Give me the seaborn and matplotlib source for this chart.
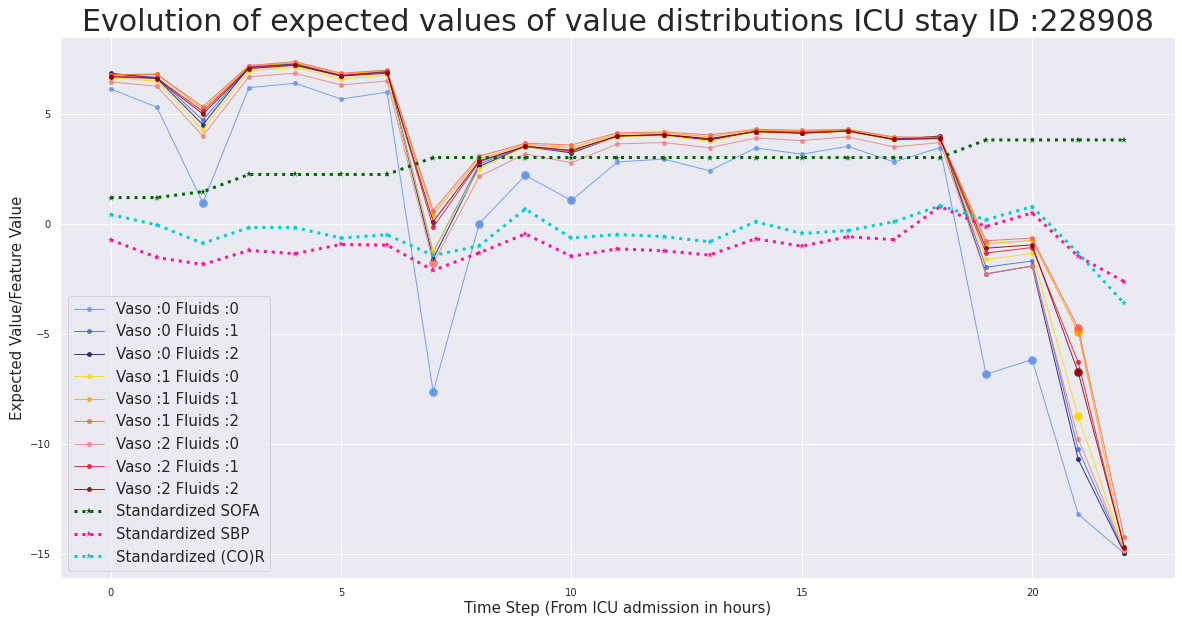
import numpy as np
import pandas as pd
import matplotlib
matplotlib.use("Agg")
import matplotlib.pyplot as plt
import seaborn as sns

# Valores esperados por accion (vaso, fluids) para la estancia 228908
steps = list(range(23))

v0f0 = [6.12, 5.29, 0.94, 6.17, 6.38, 5.66, 5.97, -7.65, 0.00, 2.19, 1.05, 2.80, 2.93, 2.40, 3.44, 3.15, 3.51, 2.80, 3.45, -6.85, -6.18, -13.21, -14.99]
v0f1 = [6.80, 6.65, 4.70, 7.12, 7.28, 6.75, 6.92, -1.30, 2.70, 3.52, 3.25, 3.98, 4.04, 3.82, 4.20, 4.18, 4.22, 3.85, 3.95, -1.98, -1.70, -10.26, -14.95]
v0f2 = [6.83, 6.60, 4.49, 7.10, 7.25, 6.72, 6.90, -1.60, 2.60, 3.50, 3.21, 3.96, 4.02, 3.80, 4.18, 4.12, 4.20, 3.82, 3.98, -2.29, -1.93, -10.71, -14.97]
v1f0 = [6.62, 6.47, 4.27, 6.94, 7.10, 6.56, 6.74, -1.24, 2.50, 3.50, 3.28, 3.94, 4.00, 3.73, 4.16, 4.12, 4.18, 3.80, 3.86, -1.63, -1.36, -8.75, -14.85]
v1f1 = [6.75, 6.80, 5.20, 7.15, 7.30, 6.78, 6.95, 0.41, 2.95, 3.60, 3.45, 4.05, 4.10, 3.95, 4.24, 4.20, 4.25, 3.90, 3.90, -0.92, -0.77, -4.92, -14.80]
v1f2 = [6.77, 6.78, 5.31, 7.18, 7.36, 6.83, 6.98, 0.59, 3.06, 3.65, 3.57, 4.12, 4.16, 4.03, 4.28, 4.24, 4.28, 3.94, 3.92, -0.78, -0.66, -4.74, -14.25]
v2f0 = [6.44, 6.24, 3.98, 6.67, 6.83, 6.30, 6.48, -1.80, 2.14, 3.17, 2.76, 3.62, 3.68, 3.44, 3.89, 3.77, 3.94, 3.48, 3.68, -2.29, -1.93, -9.77, -14.90]
v2f1 = [6.70, 6.62, 5.10, 7.08, 7.22, 6.72, 6.88, -0.17, 2.80, 3.52, 3.30, 3.98, 4.04, 3.84, 4.18, 4.12, 4.20, 3.82, 3.86, -1.34, -1.09, -6.30, -14.75]
v2f2 = [6.67, 6.59, 4.98, 7.04, 7.19, 6.70, 6.83, 0.09, 2.85, 3.51, 3.33, 3.98, 4.04, 3.86, 4.18, 4.10, 4.21, 3.82, 3.88, -1.12, -0.97, -6.76, -14.69]

# Pasos donde el punto se dibuja mas grande
big_v0f0 = [2, 7, 8, 9, 10, 19, 20]
big_v1f0 = [21]
big_v1f1 = [21]
big_v1f2 = [21]
big_v2f0 = [7]
big_v2f2 = [21]

# Variables estandarizadas del paciente
sofa = [1.18, 1.18, 1.45, 2.23, 2.23, 2.23, 2.23, 3.0, 3.0, 3.0, 3.0, 3.0, 3.0, 3.0, 3.0, 3.0, 3.0, 3.0, 3.0, 3.8, 3.8, 3.8, 3.8]
sbp = [-0.74, -1.54, -1.86, -1.22, -1.37, -0.95, -0.98, -2.13, -1.33, -0.47, -1.49, -1.15, -1.24, -1.43, -0.69, -1.03, -0.60, -0.73, 0.77, -0.14, 0.48, -1.49, -2.64]
cor = [0.41, -0.06, -0.90, -0.18, -0.18, -0.66, -0.51, -1.45, -1.01, 0.66, -0.66, -0.50, -0.59, -0.83, 0.08, -0.45, -0.32, 0.08, 0.81, 0.17, 0.77, -1.34, -3.63]

action_labels = ["Vaso :0 Fluids :0", "Vaso :0 Fluids :1", "Vaso :0 Fluids :2",
                 "Vaso :1 Fluids :0", "Vaso :1 Fluids :1", "Vaso :1 Fluids :2",
                 "Vaso :2 Fluids :0", "Vaso :2 Fluids :1", "Vaso :2 Fluids :2"]
action_values = [v0f0, v0f1, v0f2, v1f0, v1f1, v1f2, v2f0, v2f1, v2f2]
action_big = [big_v0f0, [], [], big_v1f0, big_v1f1, big_v1f2, big_v2f0, [], big_v2f2]
action_colors = ["cornflowerblue", "royalblue", "midnightblue",
                 "gold", "orange", "tomato",
                 "lightcoral", "crimson", "darkred"]

feature_labels = ["Standardized SOFA", "Standardized SBP", "Standardized (CO)R"]
feature_values = [sofa, sbp, cor]
feature_colors = ["darkgreen", "deeppink", "darkturquoise"]

sns.set_theme(style="darkgrid")

fig, ax = plt.subplots(figsize=(1182 / 72, 625 / 72), dpi=72)
fig.subplots_adjust(left=0.0508, right=0.994, bottom=0.0752, top=0.9408)

for lab, vals, big, col in zip(action_labels, action_values, action_big, action_colors):
    df = pd.DataFrame({"step": steps, "value": vals})
    sns.lineplot(data=df, x="step", y="value", ax=ax, color=col, label=lab,
                 marker="o", markersize=5, markeredgewidth=0, linewidth=1, alpha=0.85)
    if big:
        dfb = df[df["step"].isin(big)]
        sns.scatterplot(data=dfb, x="step", y="value", ax=ax, color=col,
                        s=75, linewidth=0, alpha=0.9, legend=False)

for lab, vals, col in zip(feature_labels, feature_values, feature_colors):
    df = pd.DataFrame({"step": steps, "value": vals})
    sns.lineplot(data=df, x="step", y="value", ax=ax, color=col, label=lab,
                 marker="*", markersize=7, markeredgewidth=0, linewidth=3,
                 linestyle=":")

ax.set_title("Evolution of expected values of value distributions ICU stay ID :228908", fontsize=30)
ax.set_xlabel("Time Step (From ICU admission in hours)", fontsize=15)
ax.set_ylabel("Expected Value/Feature Value", fontsize=15)
ax.tick_params(labelsize=10)
ax.set_xticks([0, 5, 10, 15, 20])
ax.set_yticks([-15, -10, -5, 0, 5])
ax.set_xlim(-1.1, 23.1)
ax.legend(loc="lower left", fontsize=15, handlelength=2)

fig.savefig("out.png", dpi=72)
